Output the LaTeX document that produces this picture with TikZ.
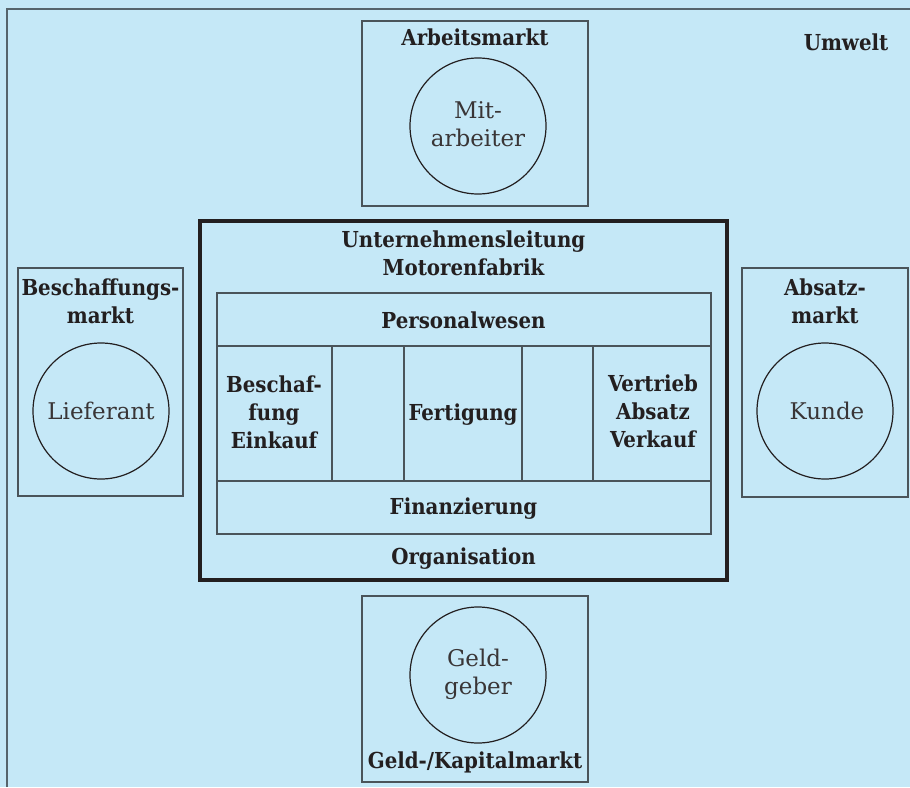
\documentclass[tikz,border=0pt]{standalone}
\usepackage{fontspec}
\setmainfont{DejaVu Serif Condensed}
\newfontfamily\regf{DejaVu Serif}
\definecolor{bgc}{HTML}{C5E8F7}
\definecolor{framec}{HTML}{56646C}
\definecolor{linec}{HTML}{4A545A}
\definecolor{txt}{HTML}{231F20}
\begin{document}
\begin{tikzpicture}[x=1pt,y=-1pt,
  bx/.style={draw=linec, line width=1.4pt, minimum width=#1, inner sep=0pt},
  circ/.style={draw=txt, line width=1.2pt, circle, minimum size=136pt, inner sep=0pt},
  bt/.style={font=\bfseries\fontsize{22}{28}\selectfont, align=center, inner sep=0pt, text=txt, anchor=base},
  rt/.style={font=\regf\fontsize{23}{28}\selectfont, align=center, inner sep=0pt, text=txt!90, anchor=base},
]
\fill[bgc] (0,0) rectangle (910,787);
\useasboundingbox (0,0) rectangle (910,787);
\draw[framec, line width=2pt] (7,787) -- (7,9) -- (910,9);
\node[bt] (umw) at (846,50) {Umwelt};

% Arbeitsmarkt
\node[bx=226pt, minimum height=185pt] (am) at (475,113.5) {};
\node[bt] (amt) at (475,45) {Arbeitsmarkt};
\node[circ] (ma) at (478,126) {};
\node[rt] at (478,118) {Mit-};
\node[rt] at (478,146) {arbeiter};

% Beschaffungsmarkt
\node[bx=165pt, minimum height=228pt] (bm) at (100.5,382) {};
\node[bt] at (100.5,295) {Beschaffungs-};
\node[bt] at (100.5,323) {markt};
\node[circ] (lf) at (101,411) {};
\node[rt] at (101,419) {Lieferant};

% Absatzmarkt
\node[bx=166pt, minimum height=229pt] (abm) at (825,382.5) {};
\node[bt] at (825,295) {Absatz-};
\node[bt] at (825,323) {markt};
\node[circ] (kd) at (825,411) {};
\node[rt] at (827,419) {Kunde};

% Geld-/Kapitalmarkt
\node[bx=226pt, minimum height=186pt] (gk) at (475,689) {};
\node[circ] (gg) at (478,675) {};
\node[rt] at (478,666) {Geld-};
\node[rt] at (478,694) {geber};
\node[bt] at (475,768) {Geld-/Kapitalmarkt};

% Unternehmen
\node[draw=txt, line width=3.2pt, minimum width=527pt, minimum height=359pt, inner sep=0pt] (ul) at (463.5,400.5) {};
\node[bt] at (463.5,247) {Unternehmensleitung};
\node[bt] at (463.5,275) {Motorenfabrik};
\node[bx=494pt, minimum height=241pt] (ib) at (464,413.5) {};
\coordinate (h1l) at (217,346); \coordinate (h1r) at (711,346);
\coordinate (h2l) at (217,481); \coordinate (h2r) at (711,481);
\draw[linec, line width=1.4pt] (h1l) -- (h1r) (h2l) -- (h2r);
\foreach \x in {332,404,522,593} \draw[linec, line width=1.4pt] (\x,346) -- (\x,481);
\node[bt] at (463.5,328) {Personalwesen};
\node[bt] at (274,392) {Beschaf-};
\node[bt] at (274,420) {fung};
\node[bt] at (274,448) {Einkauf};
\node[bt] at (463,420) {Fertigung};
\node[bt] at (653,391) {Vertrieb};
\node[bt] at (653,419) {Absatz};
\node[bt] at (653,447) {Verkauf};
\node[bt] at (463.5,514) {Finanzierung};
\node[bt] at (463.5,564) {Organisation};
\end{tikzpicture}
\end{document}
